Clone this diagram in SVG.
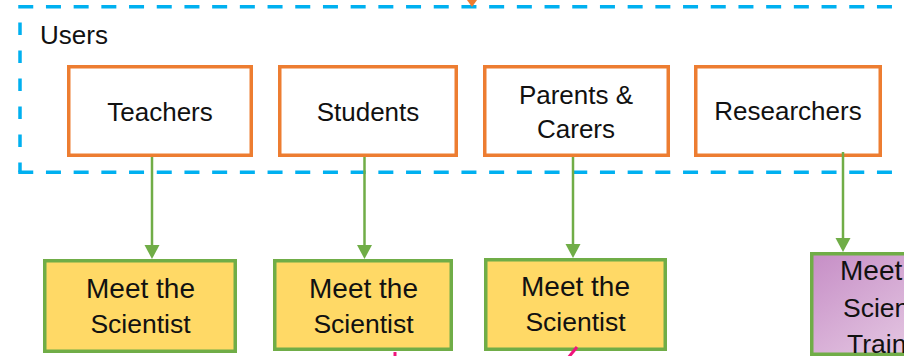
<svg xmlns="http://www.w3.org/2000/svg" width="904" height="356" viewBox="0 0 904 356">
  <defs>
    <linearGradient id="purp" x1="0" y1="0" x2="1" y2="1">
      <stop offset="0" stop-color="#C68EC6"/>
      <stop offset="1" stop-color="#EBD3E8"/>
    </linearGradient>
    <style>
      text { font-family: "Liberation Sans", Arial, sans-serif; font-size: 26px; fill: #111; }
      .c { text-anchor: middle; }
      .m { font-size: 28px; }
      .s { font-size: 26.5px; }
      .user rect { fill: #fff; stroke: #ED7D31; stroke-width: 3.5; }
      .mts rect { fill: #FFD966; stroke: #70AD47; stroke-width: 3.5; }
      .dash { fill: none; stroke: #00B0F0; stroke-width: 3.5; }
      .conn line { stroke: #70AD47; stroke-width: 2.5; }
      .conn polygon { fill: #70AD47; }
      .conn line.pink { stroke: #F0147C; stroke-width: 3; }
    </style>
  </defs>
  <rect width="904" height="356" fill="#fff"/>

  <g id="users-group">
    <path class="dash" d="M18.25 6.7 H920" stroke-dasharray="15 12.7"/>
    <path class="dash" d="M20 22.5 V172.3" stroke-dasharray="12.5 15.5"/>
    <path class="dash" d="M18.25 172.3 H920" stroke-dasharray="15 12.7"/>
    <text x="40" y="44" font-size="25">Users</text>
  </g>

  <g id="top-arrow">
    <polygon points="467,0 477,0 472,7" fill="#ED7D31"/>
  </g>

  <g id="teachers" class="user">
    <rect x="68.75" y="66.75" width="182.5" height="88.5"/>
    <text class="c" x="160" y="121">Teachers</text>
  </g>
  <g id="students" class="user">
    <rect x="279.75" y="66.75" width="176.5" height="88.5"/>
    <text class="c" x="368" y="121">Students</text>
  </g>
  <g id="parents" class="user">
    <rect x="484.75" y="66.75" width="183.5" height="88.5"/>
    <text class="c" x="576" y="104">Parents &amp;</text>
    <text class="c" x="576" y="138">Carers</text>
  </g>
  <g id="researchers" class="user">
    <rect x="695.75" y="66.75" width="184.5" height="88.5"/>
    <text class="c" x="788" y="120">Researchers</text>
  </g>

  <g id="mts1" class="mts">
    <rect x="44.75" y="260.75" width="190.5" height="90.5"/>
    <text class="c m" x="140.5" y="298">Meet the</text>
    <text class="c s" x="140.5" y="333">Scientist</text>
  </g>
  <g id="mts2" class="mts">
    <rect x="274.75" y="260.75" width="176.5" height="88.5"/>
    <text class="c m" x="363.5" y="298">Meet the</text>
    <text class="c s" x="363.5" y="333">Scientist</text>
  </g>
  <g id="mts3" class="mts">
    <rect x="485.75" y="259.75" width="179.5" height="89.5"/>
    <text class="c m" x="575.5" y="296">Meet the</text>
    <text class="c s" x="575.5" y="331">Scientist</text>
  </g>
  <g id="mts-training">
    <rect x="811.75" y="253.75" width="150" height="100.5" fill="url(#purp)" stroke="#70AD47" stroke-width="3.5"/>
    <text class="m" x="840" y="280">Meet</text>
    <text class="s" x="843" y="317">Scien</text>
    <text class="s" x="847" y="353">Train</text>
  </g>

  <g id="connectors" class="conn">
    <line x1="152" y1="157" x2="152" y2="246"/>
    <polygon points="144.5,245 159.5,245 152,259"/>
    <line x1="364.5" y1="157" x2="364.5" y2="246"/>
    <polygon points="357,245 372,245 364.5,259"/>
    <line x1="573" y1="157" x2="573" y2="245"/>
    <polygon points="565.5,244 580.5,244 573,258"/>
    <line x1="843" y1="152" x2="843" y2="239"/>
    <polygon points="835.5,238 850.5,238 843,252"/>
    <line class="pink" x1="395" y1="352" x2="395" y2="358"/>
    <line class="pink" x1="577" y1="347" x2="568" y2="358"/>
  </g>
</svg>
